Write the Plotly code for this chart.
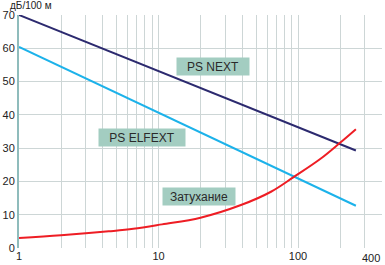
import math
import plotly.graph_objects as go

# Data
line_f = [1, 260]
next_db = [70.0, 29.3]
elfext_db = [60.4, 12.7]
att_f = [1, 2, 4.4, 6.6, 10.6, 20, 39, 64, 93, 145, 200, 260]
att_db = [3.0, 3.8, 5.0, 5.75, 7.1, 9.1, 12.9, 16.9, 21.3, 26.8, 31.6, 35.7]

x_grid = [1, 2, 3, 4, 5, 6, 7, 8, 9, 10, 20, 30, 40, 50, 60, 70, 80, 90,
          100, 200, 300, 400]
x_labeled = {1: "1", 10: "10", 100: "100"}
y_ticks = [0, 10, 20, 30, 40, 50, 60, 70]

labels = ["PS NEXT", "PS ELFEXT", "Затухание"]
label_x = [24.7, 7.65, 19.5]
label_y = [54.4, 33.1, 15.5]
label_w = [70, 84, 70]

font_family = "Arial, Liberation Sans, sans-serif"
grid_color = "#cdd6d6"

fig = go.Figure()
fig.add_trace(go.Scatter(x=line_f, y=next_db, mode="lines",
                         line=dict(color="#2c2a6f", width=2), hoverinfo="skip"))
fig.add_trace(go.Scatter(x=line_f, y=elfext_db, mode="lines",
                         line=dict(color="#1cb2ea", width=2), hoverinfo="skip"))
fig.add_trace(go.Scatter(x=att_f, y=att_db, mode="lines",
                         line=dict(color="#ee1d24", width=2, shape="spline"),
                         hoverinfo="skip"))

for t, xv, yv, w in zip(labels, label_x, label_y, label_w):
    fig.add_annotation(x=math.log10(xv), y=yv, xref="x", yref="y", text=t,
                       showarrow=False, bgcolor="#a3cdc1", width=w, height=15,
                       font=dict(family=font_family, size=12, color="#2a2a2a"))

fig.add_annotation(x=math.log10(400), y=0, xref="x", yref="paper", text="400",
                   showarrow=False, xanchor="right", yanchor="top", yshift=-2,
                   font=dict(family=font_family, size=11, color="#222"))
fig.add_annotation(x=0, y=1, xref="paper", yref="paper", text="дБ/100 м",
                   showarrow=False, xanchor="left", yanchor="bottom",
                   xshift=-11, yshift=2,
                   font=dict(family=font_family, size=10, color="#222"))

fig.update_layout(
    width=385, height=265,
    margin=dict(l=16, r=3, t=15, b=15),
    paper_bgcolor="white", plot_bgcolor="white",
    showlegend=False,
    font=dict(family=font_family, size=11, color="#222"),
    xaxis=dict(type="log", range=[0, math.log10(400)],
               tickvals=x_grid,
               ticktext=[x_labeled.get(v, "") for v in x_grid], ticks="",
               showgrid=True, gridcolor=grid_color, gridwidth=1,
               zeroline=False, showline=False, fixedrange=True),
    yaxis=dict(range=[0, 70], tickvals=y_ticks, ticks="",
               showgrid=True, gridcolor=grid_color, gridwidth=1,
               zeroline=False, showline=True, linecolor="#8fbcbc",
               linewidth=2, fixedrange=True),
)

fig.write_html("out.html")
